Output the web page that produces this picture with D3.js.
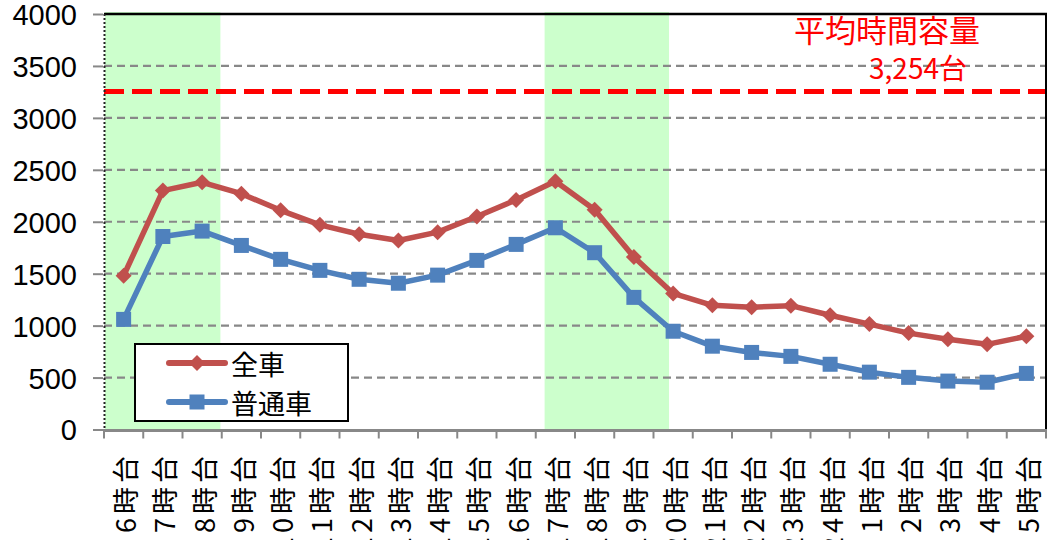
<!DOCTYPE html>
<html>
<head>
<meta charset="utf-8">
<script src="https://cdn.jsdelivr.net/npm/d3@7"></script>
<style>
  html, body { margin: 0; padding: 0; background: #fff; overflow: hidden; }
  svg { display: block; }
</style>
</head>
<body>
<svg id="chart" width="1052" height="540"></svg>
<script>
// Hourly traffic volume (vehicles per hour)
const hours = ["6時台","7時台","8時台","9時台","10時台","11時台","12時台","13時台","14時台","15時台","16時台","17時台",
               "18時台","19時台","20時台","21時台","22時台","23時台","24時台","1時台","2時台","3時台","4時台","5時台"];
const allVehicles = [1480, 2300, 2380, 2270, 2110, 1970, 1880, 1820, 1900, 2050, 2210, 2390,
                     2115, 1660, 1310, 1195, 1178, 1192, 1100, 1015, 928, 868, 820, 898];
const regularVehicles = [1060, 1858, 1910, 1772, 1638, 1532, 1446, 1408, 1486, 1628, 1782, 1942,
                         1702, 1272, 946, 802, 742, 704, 628, 552, 502, 466, 455, 540];
const yTicks = [0, 500, 1000, 1500, 2000, 2500, 3000, 3500, 4000];
const capacity = 3254;
const capacityLabel = ["平均時間容量", "3,254台"];
// Peak-hour shading, in category-index units along the x axis
const peakSpans = [[0, 2.94], [11.2, 14.37]];
const seriesNames = ["全車", "普通車"];

const svg = d3.select("#chart");
const plotL = 104, plotR = 1046, plotT = 14, plotB = 429.5;

const x = d3.scaleBand().domain(hours).range([plotL, plotR]).padding(0);
const xIdx = d3.scaleLinear().domain([0, hours.length]).range([plotL, plotR]);
const y = d3.scaleLinear().domain([0, 4000]).range([plotB, plotT]);

const red = "#C0504D", blue = "#4F81BD";

// Peak-hour bands
svg.append("g").selectAll("rect").data(peakSpans).join("rect")
  .attr("x", d => xIdx(d[0]) + 1)
  .attr("width", d => xIdx(d[1]) - xIdx(d[0]))
  .attr("y", plotT - 2)
  .attr("height", plotB - plotT + 2)
  .attr("fill", "#CCFFCC");

// Horizontal gridlines and y axis
const yAxis = d3.axisLeft(y).tickValues(yTicks).tickSize(10).tickPadding(16).tickFormat(d3.format("d"));
const gy = svg.append("g").attr("transform", `translate(${plotL - 1},0)`).call(yAxis);
gy.select(".domain").remove();
gy.selectAll(".tick line").attr("stroke", "#888").attr("stroke-width", 2);
gy.selectAll(".tick text")
  .attr("font-family", "Liberation Sans, Arial, sans-serif")
  .attr("font-size", 29).attr("fill", "#000").attr("dy", "0.36em");

svg.append("g").selectAll("line").data(yTicks.filter(v => v > 0)).join("line")
  .attr("x1", plotL).attr("x2", plotR)
  .attr("y1", d => y(d)).attr("y2", d => y(d))
  .attr("stroke", "#888").attr("stroke-width", 2.2).attr("stroke-dasharray", "8,5");

// Capacity reference line
svg.append("line")
  .attr("x1", plotL).attr("x2", plotR)
  .attr("y1", y(capacity)).attr("y2", y(capacity))
  .attr("stroke", "#FF0000").attr("stroke-width", 5).attr("stroke-dasharray", "20,8");

// Plot frame: top and right solid, left dotted
svg.append("line").attr("x1", plotL).attr("x2", plotR + 1).attr("y1", plotT).attr("y2", plotT)
  .attr("stroke", "#000").attr("stroke-width", 2.5);
svg.append("line").attr("x1", plotR).attr("x2", plotR).attr("y1", plotT).attr("y2", plotB)
  .attr("stroke", "#000").attr("stroke-width", 2);
svg.append("line").attr("x1", plotL + 0.5).attr("x2", plotL + 0.5).attr("y1", plotT).attr("y2", plotB)
  .attr("stroke", "#222").attr("stroke-width", 2).attr("stroke-dasharray", "2,2");

// Bottom axis with category boundary ticks
const gx = svg.append("g");
gx.append("line").attr("x1", plotL - 1).attr("x2", plotR + 1).attr("y1", plotB + 1).attr("y2", plotB + 1)
  .attr("stroke", "#888").attr("stroke-width", 3);
gx.selectAll("line.tk").data(d3.range(hours.length + 1)).join("line").attr("class", "tk")
  .attr("x1", d => xIdx(d)).attr("x2", d => xIdx(d))
  .attr("y1", plotB + 1).attr("y2", plotB + 9)
  .attr("stroke", "#888").attr("stroke-width", 2);
gx.selectAll("text").data(hours).join("text")
  .attr("transform", d => `translate(${x(d) + x.bandwidth() / 2 + 1},452) rotate(-90)`)
  .attr("text-anchor", "end")
  .attr("dominant-baseline", "central")
  .attr("font-family", "Noto Sans CJK JP, sans-serif")
  .attr("font-size", 27).attr("letter-spacing", "4px").attr("fill", "#000")
  .text(d => d);

// Series lines and markers
const line = d3.line().x((d, i) => x(hours[i]) + x.bandwidth() / 2).y(d => y(d));
const diamond = s => `M0,${-s}L${s},0L0,${s}L${-s},0Z`;

svg.append("path").datum(allVehicles).attr("d", line)
  .attr("fill", "none").attr("stroke", red).attr("stroke-width", 5.5).attr("stroke-linejoin", "round");
svg.append("path").datum(regularVehicles).attr("d", line)
  .attr("fill", "none").attr("stroke", blue).attr("stroke-width", 5.5).attr("stroke-linejoin", "round");

svg.append("g").selectAll("path").data(allVehicles).join("path")
  .attr("transform", (d, i) => `translate(${x(hours[i]) + x.bandwidth() / 2},${y(d)})`)
  .attr("d", diamond(8)).attr("fill", red);
svg.append("g").selectAll("rect").data(regularVehicles).join("rect")
  .attr("x", (d, i) => x(hours[i]) + x.bandwidth() / 2 - 7.5)
  .attr("y", d => y(d) - 7.5)
  .attr("width", 15).attr("height", 15).attr("fill", blue);

// Capacity annotation
svg.append("text").attr("x", 887).attr("y", 42).attr("text-anchor", "middle")
  .attr("font-family", "Noto Sans CJK JP, sans-serif").attr("font-size", 31).attr("fill", "#FF0000")
  .text(capacityLabel[0]);
svg.append("text").attr("x", 918).attr("y", 79).attr("text-anchor", "middle")
  .attr("font-family", "Noto Sans CJK JP, sans-serif").attr("font-size", 28).attr("fill", "#FF0000")
  .text(capacityLabel[1]);

// Legend
const lg = svg.append("g").attr("transform", "translate(135,344)");
lg.append("rect").attr("width", 213).attr("height", 77).attr("fill", "#fff")
  .attr("stroke", "#000").attr("stroke-width", 2);
const legendItems = [
  { name: seriesNames[0], color: red, shape: "diamond" },
  { name: seriesNames[1], color: blue, shape: "square" }
];
legendItems.forEach((it, i) => {
  const cy = 19 + i * 39;
  lg.append("line").attr("x1", 34).attr("x2", 90).attr("y1", cy).attr("y2", cy)
    .attr("stroke", it.color).attr("stroke-width", 6).attr("stroke-linecap", "round");
  if (it.shape === "diamond") {
    lg.append("path").attr("transform", `translate(62,${cy})`).attr("d", diamond(8)).attr("fill", it.color);
  } else {
    lg.append("rect").attr("x", 62 - 7.5).attr("y", cy - 7.5).attr("width", 15).attr("height", 15).attr("fill", it.color);
  }
  lg.append("text").attr("x", 96).attr("y", cy).attr("dominant-baseline", "central")
    .attr("font-family", "Noto Sans CJK JP, sans-serif").attr("font-size", 27).attr("fill", "#000")
    .text(it.name);
});
</script>
</body>
</html>
